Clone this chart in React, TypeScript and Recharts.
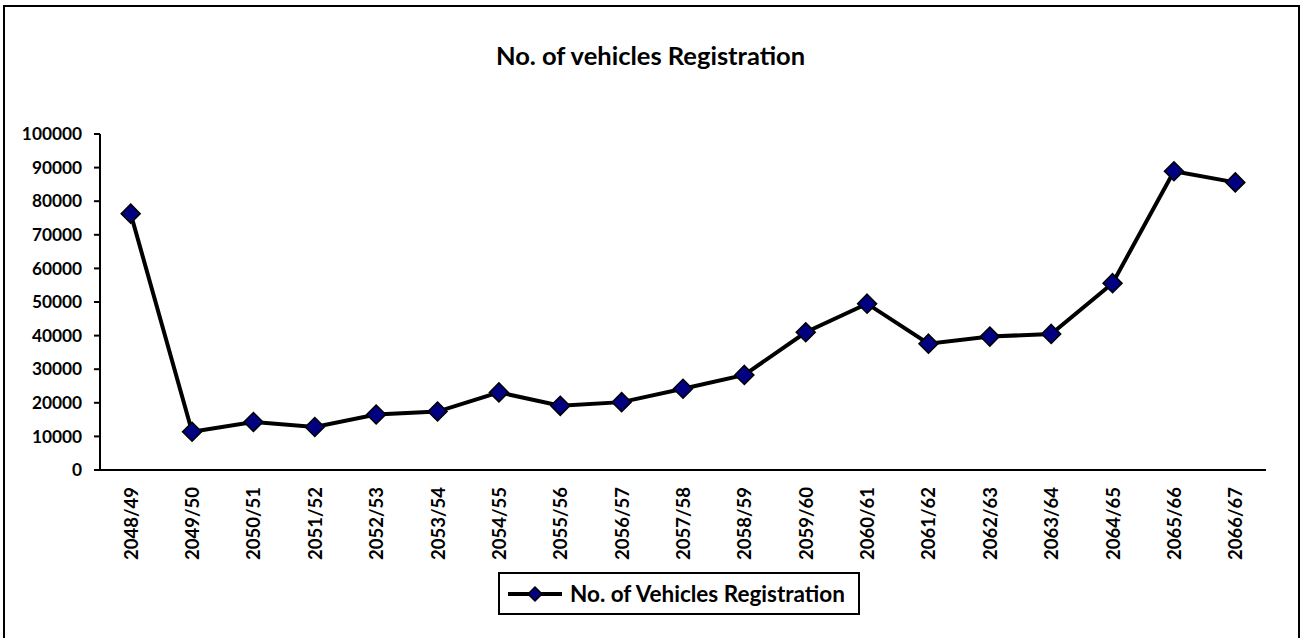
import React from "react";
import { LineChart, Line, XAxis, YAxis, Legend } from "recharts";

const categories = [
  "2048/49", "2049/50", "2050/51", "2051/52", "2052/53", "2053/54", "2054/55",
  "2055/56", "2056/57", "2057/58", "2058/59", "2059/60", "2060/61", "2061/62",
  "2062/63", "2063/64", "2064/65", "2065/66", "2066/67",
];
const registrations = [
  76300, 11400, 14300, 12800, 16500, 17400, 23100, 19100, 20200, 24200, 28300,
  41000, 49500, 37600, 39700, 40500, 55600, 88900, 85600,
];
const yTicks = [0, 10000, 20000, 30000, 40000, 50000, 60000, 70000, 80000, 90000, 100000];
const boundaryTicks = categories.map((_, i) => i).concat([categories.length]);

const seriesName = "No. of Vehicles Registration";
const title = "No. of vehicles Registration";

const data = categories.map((c, i) => ({ cat: c, pos: i + 0.5, value: registrations[i] }));

const FONT = "Lato, 'Liberation Sans', sans-serif";

const Diamond = (props: any) => {
  const { cx, cy } = props;
  if (cx == null || cy == null) return null;
  const r = 9.5;
  return (
    <polygon
      points={`${cx},${cy - r} ${cx + r},${cy} ${cx},${cy + r} ${cx - r},${cy}`}
      fill="#000080"
      stroke="#000"
      strokeWidth={1.5}
    />
  );
};

const CatTick = (props: any) => {
  const { x, y, payload } = props;
  return (
    <text
      x={0}
      y={0}
      transform={`translate(${x},${y}) rotate(-90)`}
      textAnchor="end"
      dominantBaseline="central"
      fontFamily={FONT}
      fontWeight={700}
      fontSize={18.5}
      fill="#000"
    >
      {payload.value}
    </text>
  );
};

const LegendContent = () => (
  <div
    style={{
      boxSizing: "border-box",
      width: 362,
      height: 43,
      border: "2px solid #000",
      background: "#fff",
      display: "flex",
      alignItems: "center",
      paddingLeft: 7,
    }}
  >
    <svg width={56} height={20} style={{ display: "block" }}>
      <line x1={1} y1={10} x2={55} y2={10} stroke="#000" strokeWidth={4} />
      <polygon points="28,3 35,10 28,17 21,10" fill="#000080" stroke="#000" strokeWidth={1.5} />
    </svg>
    <span
      style={{
        fontFamily: FONT,
        fontWeight: 700,
        fontSize: 22.5,
        color: "#000",
        marginLeft: 7,
        whiteSpace: "nowrap",
      }}
    >
      {seriesName}
    </span>
  </div>
);

export default function App() {
  return (
    <div style={{ position: "absolute", left: 0, top: 0, width: 1301, height: 638, overflow: "hidden", background: "#fff" }}>
      <div
        style={{
          position: "absolute",
          left: 3,
          top: 5,
          width: 1293,
          height: 700,
          border: "2px solid #000",
        }}
      />
      <div
        style={{
          position: "absolute",
          left: 0,
          width: 1301,
          top: 40,
          textAlign: "center",
          fontFamily: FONT,
          fontWeight: 700,
          fontSize: 25.5,
          lineHeight: 1.2,
          color: "#000",
        }}
      >
        {title}
      </div>
      <div style={{ position: "absolute", left: 0, top: 0 }}>
        <LineChart
          width={1301}
          height={638}
          data={data}
          margin={{ top: 134, right: 35, bottom: 0, left: 0 }}
        >
          <XAxis
            xAxisId="a"
            dataKey="pos"
            type="number"
            domain={[0, categories.length]}
            ticks={boundaryTicks}
            tick={false}
            tickSize={6}
            height={8}
            axisLine={{ stroke: "#000", strokeWidth: 2 }}
            tickLine={{ stroke: "#000", strokeWidth: 2 }}
            allowDataOverflow
          />
          <XAxis
            xAxisId="z"
            dataKey="cat"
            type="category"
            scale="band"
            interval={0}
            axisLine={false}
            tickLine={false}
            tickSize={0}
            tickMargin={9}
            height={117}
            tick={<CatTick />}
          />
          <YAxis
            type="number"
            domain={[0, 100000]}
            ticks={yTicks}
            interval={0}
            width={100}
            tickSize={6}
            tickMargin={12}
            axisLine={{ stroke: "#000", strokeWidth: 2 }}
            tickLine={{ stroke: "#000", strokeWidth: 2 }}
            tick={{ fill: "#000", fontFamily: FONT, fontWeight: 700, fontSize: 17.3 }}
          />
          <Legend
            content={<LegendContent />}
            wrapperStyle={{ position: "absolute", left: 498, top: 572, width: 362, height: 43, bottom: "auto" }}
          />
          <Line
            xAxisId="a"
            dataKey="value"
            name={seriesName}
            stroke="#000"
            strokeWidth={4}
            dot={<Diamond />}
            activeDot={false}
            isAnimationActive={false}
          />
        </LineChart>
      </div>
    </div>
  );
}
